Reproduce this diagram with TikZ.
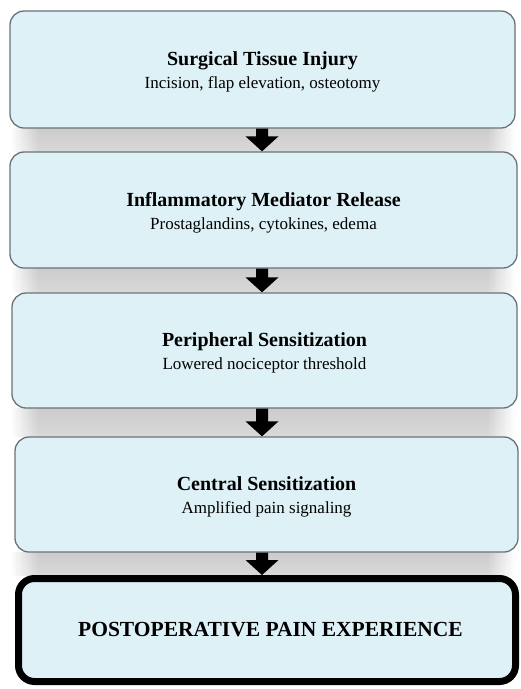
\documentclass[tikz,border=0pt]{standalone}
\usepackage{fontspec}
\setmainfont{Liberation Serif}
\usetikzlibrary{calc,backgrounds}
\definecolor{boxfill}{RGB}{222,241,247}
\definecolor{boxline}{RGB}{105,115,120}
\newcommand\flowarrow[2]{%
  \coordinate (t#1) at (#1.south -| ax);
  \coordinate (h#1) at (#2.north -| ax);
  \fill[arr] ($(t#1)+(-6,0)$) -- ($(t#1)+(6,0)$) -- ($(h#1)+(6,-15)$) -- ($(h#1)+(16.5,-15)$)
    -- (h#1) -- ($(h#1)+(-16.5,-15)$) -- ($(h#1)+(-6,-15)$) -- cycle;}
\newcommand\bandbetween[2]{%
  \foreach \i in {1,...,12} {%
    \pgfmathsetmacro\ta{40*\i/12}%
    \pgfmathsetmacro\ma{5*\i/12}%
    \pgfmathsetmacro\ba{30*\i/12}%
    \pgfmathsetmacro\xl{12+(\i-1)*2.3}%
    \pgfmathsetmacro\xr{514-(\i-1)*2.3}%
    \shade[top color=gray!\ta, middle color=gray!\ma, bottom color=gray!\ba]
      let \p1=(#1.south), \p2=(#2.north) in (\xl,\y1) rectangle (\xr,\y2);
  }}
\begin{document}
\begin{tikzpicture}[x=1pt,y=-1pt,
  stage/.style={draw=boxline, line width=1.3pt, fill=boxfill, rounded corners=14pt,
    inner sep=0pt},
  final/.style={draw=black, line width=7pt, fill=boxfill, rounded corners=16pt,
    align=center, inner sep=0pt, font=\fontsize{21.5}{25}\selectfont\bfseries},
  txt/.style={align=center, inner sep=0pt, yshift=-2.5pt, font=\fontsize{17}{23}\selectfont},
  arr/.style={fill=black}]
\useasboundingbox (0,0) rectangle (521,689);
\coordinate (ax) at (262,0);

\node[stage, minimum width=505pt, minimum height=117pt,
  label={[txt]center:{{\fontsize{20}{23}\selectfont\bfseries Surgical Tissue Injury}\\Incision, flap elevation, osteotomy}}]
  (b1) at (262.5,69.5) {};
\node[stage, minimum width=507pt, minimum height=116pt,
  label={[txt]center:{{\fontsize{20}{23}\selectfont\bfseries Inflammatory Mediator Release}\\Prostaglandins, cytokines, edema}}]
  (b2) at (263.5,210) {};
\node[stage, minimum width=505pt, minimum height=115pt,
  label={[txt]center:{{\fontsize{20}{23}\selectfont\bfseries Peripheral Sensitization}\\Lowered nociceptor threshold}}]
  (b3) at (264.5,350.5) {};
\node[stage, minimum width=503pt, minimum height=115pt,
  label={[txt]center:{{\fontsize{20}{23}\selectfont\bfseries Central Sensitization}\\Amplified pain signaling}}]
  (b4) at (266.5,494.5) {};
\node[final, minimum width=497pt, minimum height=103pt] (b5) at (267,630)
  {\hspace*{7pt}POSTOPERATIVE PAIN EXPERIENCE};

\begin{scope}[on background layer]
  \fill[white] (0,0) rectangle (521,689);
  \bandbetween{b1}{b2}
  \bandbetween{b2}{b3}
  \bandbetween{b3}{b4}
  \bandbetween{b4}{b5}
\end{scope}

\flowarrow{b1}{b2}
\flowarrow{b2}{b3}
\flowarrow{b3}{b4}
\flowarrow{b4}{b5}
\end{tikzpicture}
\end{document}
